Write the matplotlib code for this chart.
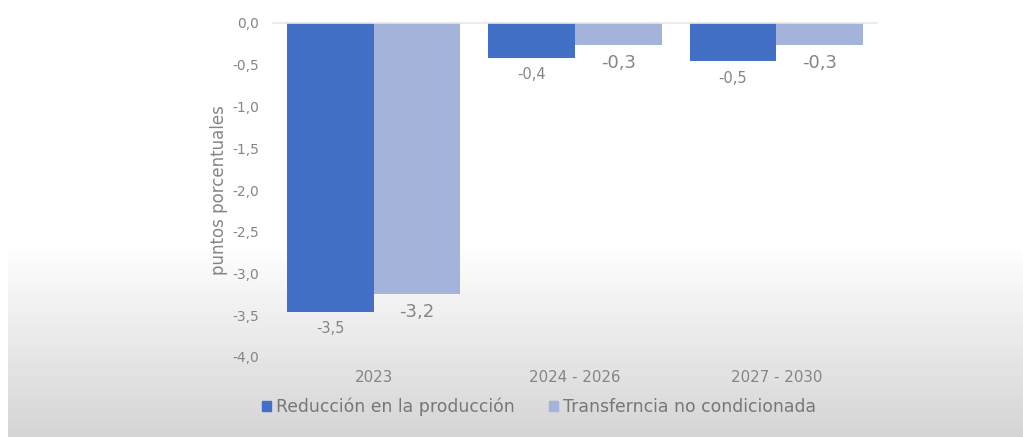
import numpy as np
import matplotlib
matplotlib.use("Agg")
import matplotlib.pyplot as plt
from matplotlib.patches import Patch

# ---- data ----
categories = ["2023", "2024 - 2026", "2027 - 2030"]
series_names = ["Reducción en la producción", "Transferncia no condicionada"]
reduccion = [-3.46, -0.42, -0.46]
transferencia = [-3.24, -0.26, -0.26]
yticks = [0.0, -0.5, -1.0, -1.5, -2.0, -2.5, -3.0, -3.5, -4.0]
ylabel = "puntos porcentuales"

# ---- style ----
dark = "#4170C6"
light = "#A4B3DA"
txt = "#858585"
W, H = 1023, 437
DPI = 100
fig = plt.figure(figsize=(W / DPI, H / DPI), dpi=DPI)

# background gradient (white top, grey bottom)
bg = fig.add_axes([0, 0, 1, 1], zorder=-10)
ys = np.arange(H)
col = np.where(ys < 240, 1.0, 1.0 - (ys - 240) / (H - 240) * 0.17)
rows = np.tile(col[:, None], (1, W))
rows[:, :8] = 1.0
bg.imshow(rows, cmap="gray", vmin=0, vmax=1, aspect="auto", extent=[0, 1, 0, 1])
bg.axis("off")

ax = fig.add_axes([273 / W, 1 - 357 / H, (877 - 273) / W, (357 - 23) / H])
ax.patch.set_alpha(0)

x = np.arange(len(categories))
bw = 0.43
b1 = ax.bar(x - bw / 2, reduccion, bw, color=dark, label=series_names[0])
b2 = ax.bar(x + bw / 2, transferencia, bw, color=light, label=series_names[1])

def fmt(v):
    return f"{v:.1f}".replace(".", ",")

for rect, v in zip(b1, reduccion):
    ax.annotate(fmt(v), (rect.get_x() + rect.get_width() / 2, v),
                xytext=(0, -12), textcoords="offset points",
                ha="center", va="center", fontsize=10.5, color=txt)
for rect, v in zip(b2, transferencia):
    ax.annotate(fmt(v), (rect.get_x() + rect.get_width() / 2, v),
                xytext=(0, -13), textcoords="offset points",
                ha="center", va="center", fontsize=13, color=txt)

ax.set_xlim(-0.5, 2.5)
ax.set_ylim(-4.0, 0.0)
ax.set_yticks(yticks)
ax.set_yticklabels([fmt(t) for t in yticks])
ax.set_xticks(x)
ax.set_xticklabels(categories)
ax.tick_params(axis="y", length=0, pad=10, labelsize=10, labelcolor=txt)
ax.tick_params(axis="x", length=0, pad=9, labelsize=10.8, labelcolor=txt)
for s in ["left", "right", "bottom"]:
    ax.spines[s].set_visible(False)
ax.spines["top"].set_color("#ece6e0")
ax.spines["top"].set_linewidth(1.2)
ax.set_ylabel(ylabel, fontsize=12, color=txt, labelpad=3)

handles = [Patch(color=dark), Patch(color=light)]
fig.legend(handles, series_names, loc="center", bbox_to_anchor=(539 / W, 1 - 407 / H),
           ncol=2, frameon=False, fontsize=12.4, labelcolor="#777777",
           handlelength=0.5, handleheight=0.5, handletextpad=0.3, columnspacing=2.0)

fig.savefig("out.png", dpi=DPI)
